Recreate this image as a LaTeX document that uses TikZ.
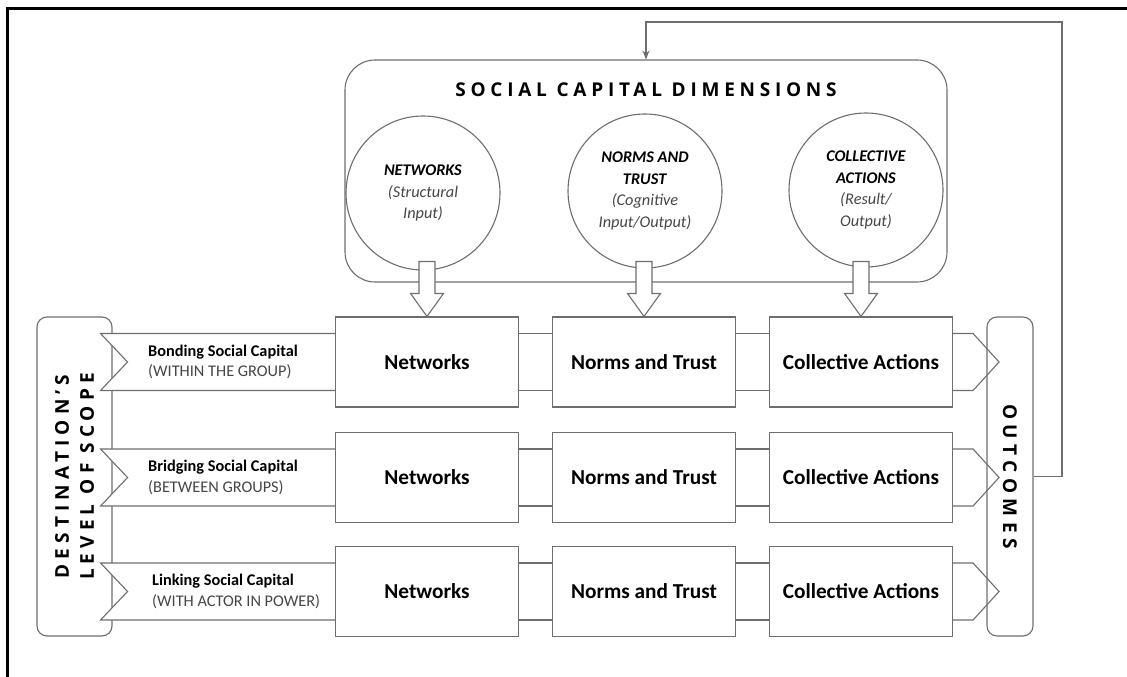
\documentclass[tikz,border=0pt]{standalone}
\usepackage{fontspec}
\setmainfont{Carlito}
\newfontfamily\osans{Open Sans}
\usetikzlibrary{calc,arrows.meta}
\definecolor{lg}{RGB}{110,110,110}
\definecolor{tg}{RGB}{70,70,70}
\begin{document}
\begin{tikzpicture}[x=1pt,y=-1pt,
  line/.style={draw=lg, line width=1.1pt},
  rowbox/.style={line, fill=white, minimum width=183, minimum height=90, inner sep=0pt,
    font=\fontsize{21.3}{24}\selectfont\bfseries},
  dimcircle/.style={line, fill=white, circle, minimum size=154, inner sep=0pt, align=center,
    font=\fontsize{16.3}{21.5}\selectfont},
  blockarrow/.style={line, fill=white},
  lbl/.style={anchor=west, align=left, inner sep=0pt, font=\fontsize{16.3}{20.5}\selectfont},
  sidebox/.style={line, rounded corners=10, inner sep=0pt, align=center}
]
\useasboundingbox (0,0) rectangle (1127,677);
% outer frame
\draw[line width=3pt] (7,677) -- (7,9) -- (1127,9);

% social capital dimensions box
\node[line, rounded corners=30, minimum width=602, minimum height=222] (scd) at (646,171) {};
\node[font={\osans\bfseries\fontsize{19}{22}\selectfont\addfontfeatures{LetterSpace=25}}] (title) at (646,90) {SOCIAL CAPITAL DIMENSIONS};

\node[dimcircle] (c1) at (423,193) {\textbf{\textit{NETWORKS}}\\{\color{tg}\itshape (Structural}\\{\color{tg}\itshape Input)}};
\node[dimcircle] (c2) at (645,191) {\textbf{\textit{NORMS AND}}\\\textbf{\textit{TRUST}}\\{\color{tg}\itshape (Cognitive}\\{\color{tg}\itshape Input/Output)}};
\node[dimcircle] (c3) at (866,190) {\textbf{\textit{COLLECTIVE}}\\\textbf{\textit{ACTIONS}}\\{\color{tg}\itshape (Result/}\\{\color{tg}\itshape Output)}};

% side boxes
\node[sidebox, rotate=90, minimum width=319, minimum height=75,
  font={\osans\bfseries\fontsize{19}{25}\selectfont\addfontfeatures{LetterSpace=27}}] (dls) at (74.5,476.5) {DESTINATION’S\\LEVEL OF SCOPE};
\node[sidebox, rotate=-90, minimum width=319, minimum height=46,
  font={\osans\bfseries\fontsize{19}{22}\selectfont\addfontfeatures{LetterSpace=29}}] (out) at (1010,476.5) {OUTCOMES};

% row boxes
\foreach \r/\y in {1/362, 2/477.5, 3/591.5} {
  \node[rowbox] (n\r) at (427,\y) {Networks};
  \node[rowbox] (t\r) at (644,\y) {Norms and Trust};
  \node[rowbox] (a\r) at (861,\y) {Collective Actions};
}

% bands between boxes, left chevrons and right chevrons
\foreach \r in {1,2,3} {
  \draw[line] ($(n\r.east)+(0,-28.5)$) -- ($(t\r.west)+(0,-28.5)$);
  \draw[line] ($(n\r.east)+(0,28.5)$) -- ($(t\r.west)+(0,28.5)$);
  \draw[line] ($(t\r.east)+(0,-28.5)$) -- ($(a\r.west)+(0,-28.5)$);
  \draw[line] ($(t\r.east)+(0,28.5)$) -- ($(a\r.west)+(0,28.5)$);
  \draw[line, fill=white] ($(n\r.west)+(0,-28.5)$) -- ($(dls.south |- n\r.west)+(-12,-28.5)$)
     -- ($(dls.south |- n\r.west)+(15,0)$) -- ($(dls.south |- n\r.west)+(-12,28.5)$)
     -- ($(n\r.west)+(0,28.5)$);
  \draw[line] ($(a\r.east)+(0,-28.5)$) -- ++(20,0) -- ($(a\r.east)+(46,0)$)
     -- ($(a\r.east)+(20,28.5)$) -- ($(a\r.east)+(0,28.5)$);
}
\node[lbl] (l1) at (148,362) {\textbf{Bonding Social Capital}\\{\color{tg}(WITHIN THE GROUP)}};
\node[lbl] (l2) at (148,477.5) {\textbf{Bridging Social Capital}\\{\color{tg}(BETWEEN GROUPS)}};
\node[lbl] (l3) at (152,591.5) {\textbf{Linking Social Capital}\\{\color{tg}(WITH ACTOR IN POWER)}};

% block arrows from the circles to the boxes
\foreach \c/\b in {c1/n1, c2/t1, c3/a1} {
  \draw[blockarrow] ($(\b.north)+(-8,-55)$) -- ++(16,0) -- ++(0,32) -- ++(8.5,0)
     -- (\b.north) -- ++(-16.5,-23) -- ++(8.5,0) -- cycle;
}

% feedback loop
\coordinate (fb) at (1062,22);
\draw[line, -{Stealth[length=9pt,width=7pt]}] (out.north) -| (fb) -| (scd.north);
\end{tikzpicture}
\end{document}
